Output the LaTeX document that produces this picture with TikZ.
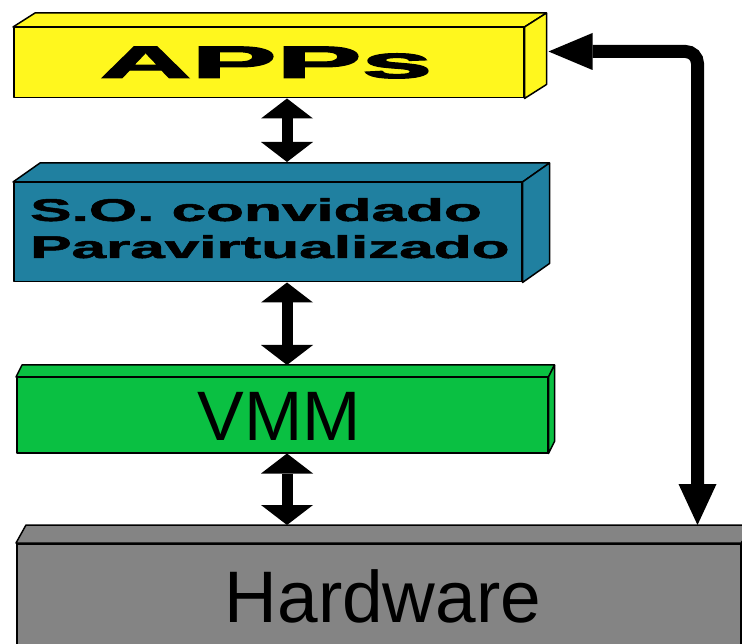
\documentclass[tikz,border=0pt]{standalone}
\usepackage{fontspec}
\setmainfont{Liberation Sans}
\usetikzlibrary{arrows.meta,calc}

\definecolor{appsyellow}{RGB}{255,247,30}
\definecolor{osteal}{RGB}{32,128,160}
\definecolor{vmmgreen}{RGB}{10,192,66}
\definecolor{hwgray}{RGB}{132,132,132}

\tikzset{
  face/.style={draw=black, line width=1.5pt, line join=round, inner sep=0pt,
               anchor=north west, minimum width=#1},
  edgeline/.style={draw=black, line width=1.5pt, line join=round},
  txt/.style={inner sep=0pt, text=black},
  dblarrow/.style={line width=11pt,
    {Triangle[width=52pt,length=20pt,line width=0pt]}-{Triangle[width=52pt,length=20pt,line width=0pt]}},
  linkarrow/.style={line width=13pt, rounded corners=12pt,
    {Triangle[width=37pt,length=44pt,line width=0pt]}-{Triangle[width=38pt,length=41pt,line width=0pt]}},
}

% top and right faces of a block whose front face is node #1,
% receding by (#2,#3), filled with colour #4
\newcommand\blockfaces[4]{%
  \filldraw[edgeline, fill=#4] (#1.north west) -- ++(#2,#3)
     -- ($(#1.north east)+(#2,#3)$) -- (#1.north east) -- cycle;
  \filldraw[edgeline, fill=#4] (#1.north east) -- ++(#2,#3)
     -- ($(#1.south east)+(#2,#3)$) -- (#1.south east) -- cycle;
}

\begin{document}
\begin{tikzpicture}[x=1pt,y=-1pt]
\clip (0,0) rectangle (742,644);

% front faces of the four layers
\node[face=510pt, minimum height=70pt, fill=appsyellow] (apps) at (13,27) {};
\node[face=508pt, minimum height=99pt, fill=osteal]     (so)   at (13,182) {};
\node[face=531pt, minimum height=75pt, fill=vmmgreen]   (vmm)  at (16,377) {};
\node[face=724pt, minimum height=130pt, fill=hwgray]    (hw)   at (16,543) {};

\blockfaces{apps}{22}{-14}{appsyellow}
\blockfaces{so}{27}{-19}{osteal}
\blockfaces{vmm}{6}{-12}{vmmgreen}
\blockfaces{hw}{10}{-18}{hwgray}

% labels
\node[txt, anchor=base] (appstxt) at (266,78)
  {\fontsize{45.5}{50}\selectfont\bfseries\addfontfeature{FakeBold=2.2}\scalebox{2.8}[1]{APPs}};
\node[txt, anchor=base west] (sotxt) at (30,221)
  {\fontsize{31.5}{37}\selectfont\bfseries\addfontfeature{FakeBold=1.5}\scalebox{1.97}[1]{%
    \begin{tabular}[t]{@{}l@{}}S.O. convidado\\Paravirtualizado\end{tabular}}};
\node[txt, anchor=base] (vmmtxt) at (279,440) {\fontsize{70}{80}\selectfont VMM};
\node[txt, anchor=base] (hwtxt) at (383,622) {\fontsize{73}{80}\selectfont Hardware};

% connectors between the layers
\coordinate (ax) at (287,0);
\coordinate (sotop)  at ($(so.north -| ax)+(0,-20)$);
\coordinate (vmmtop) at ($(vmm.north -| ax)+(0,-12)$);
\coordinate (hwtop)  at ($(hw.north -| ax)+(0,-18)$);
\draw[dblarrow] (apps.south -| ax) -- (sotop);
\draw[dblarrow] (so.south -| ax) -- (vmmtop);
\draw[dblarrow] (vmm.south -| ax) -- (hwtop);

% direct link between applications and hardware
\coordinate (appsside) at ($(apps.north east)+(24,24.5)$);
\coordinate (bend) at (697.5,51.5);
\coordinate (hwside) at ($(hw.north -| bend)+(0,-18)$);
\draw[linkarrow] (appsside) -- (bend) -- (hwside);
\end{tikzpicture}
\end{document}
